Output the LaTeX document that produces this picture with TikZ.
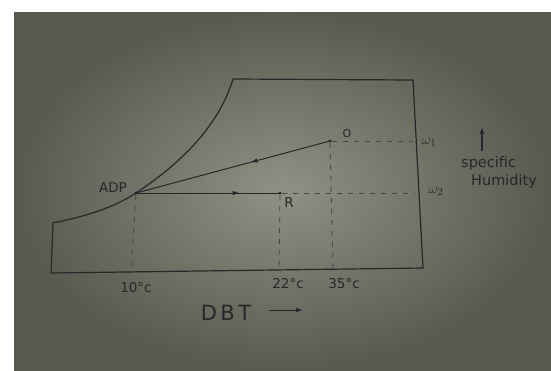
\documentclass[tikz,border=0pt]{standalone}
\usepackage{fontspec}
\setmainfont{DejaVu Sans}
\usetikzlibrary{decorations.markings,arrows.meta}
\definecolor{ink}{HTML}{26272A}
\definecolor{paperin}{HTML}{8E9184}
\definecolor{paperout}{HTML}{585A4F}
\tikzset{
  x=1pt,y=-1pt,
  pen/.style={draw=ink,line width=1.2pt,line join=round},
  guide/.style={draw=ink!85,line width=0.8pt,dash pattern=on 5pt off 6pt},
  dotpt/.style={circle,fill=ink,inner sep=0pt,minimum size=3.4pt},
  lbl/.style={text=ink,inner sep=0pt,font=\fontsize{13.5}{15}\selectfont},
  midarrow/.style={postaction={decorate},decoration={markings,mark=at position #1 with {\arrow{Latex[length=7pt,width=4.5pt]}}}},
}
\begin{document}
\begin{tikzpicture}
\useasboundingbox (0,0) rectangle (551,370);
\fill[white] (0,0) rectangle (551,370);
\shade[shading=radial,inner color=paperin,outer color=paperout] (14,12) rectangle (551,370);
% chart corners
\coordinate (cs) at (52,223);
\coordinate (ctop) at (233,79);
\coordinate (tr) at (413,80);
\coordinate (br) at (423,268);
\coordinate (bl) at (51,273);
\coordinate (lb) at (53,224);
% state points
\node[dotpt] (adp) at (136,193) {};
\node[dotpt] (o) at (330,141) {};
\node[dotpt] (r) at (280,193) {};
% right-side ends and feet of guides
\coordinate (w1end) at (413,141);
\coordinate (w2end) at (415,193);
\coordinate (adpfoot) at (131,272);
\coordinate (rfoot) at (279,271);
\coordinate (ofoot) at (333,270);
% outline
\draw[pen] (cs) .. controls (90,216) and (118,205) .. (adp.center)
  .. controls (186,160) and (220,122) .. (ctop) -- (tr) -- (br) -- (bl) -- (lb);
% process lines
\draw[pen,line width=1pt,midarrow=0.41] (o.center) -- (adp.center);
\draw[pen,line width=1pt,midarrow=0.72] (adp.center) -- (r.center);
% guides
\draw[guide] (o) -- (w1end);
\draw[guide] (r) -- (w2end);
\draw[guide] (adp) -- (adpfoot);
\draw[guide] (r) -- (rfoot);
\draw[guide] (o) -- (ofoot);
% labels
\node[lbl,font=\fontsize{11}{12}\selectfont] (lo) at (347,133) {O};
\node[lbl] (lr) at (289,203) {R};
\node[lbl] (ladp) at (113,188) {ADP};
\node[lbl,font=\fontsize{15}{16}\selectfont] (lw1) at (429,142) {$\omega_{1}$};
\node[lbl,font=\fontsize{15}{16}\selectfont] (lw2) at (436,191) {$\omega_{2}$};
\node[lbl] (t10) at (136,288) {10°c};
\node[lbl] (t22) at (288,284) {22°c};
\node[lbl] (t35) at (344,284) {35°c};
\node[lbl,font=\fontsize{21}{24}\selectfont] (dbt) at (226,313) {D\,B\,T};
\coordinate (dbta) at (269,310);
\coordinate (dbtb) at (303,310);
\draw[pen,line width=1pt,-{Latex[length=7pt,width=4.5pt]}] (dbta) -- (dbtb);
\coordinate (sha) at (482,151);
\coordinate (shb) at (482,127);
\draw[pen,line width=1.1pt,-{Latex[length=7pt,width=5pt]}] (sha) -- (shb);
\node[lbl,anchor=west,font=\fontsize{14.5}{16}\selectfont] (spec) at (461,163) {specific};
\node[lbl,anchor=west,font=\fontsize{14.5}{16}\selectfont] (hum) at (471,181) {Humidity};
\end{tikzpicture}
\end{document}
